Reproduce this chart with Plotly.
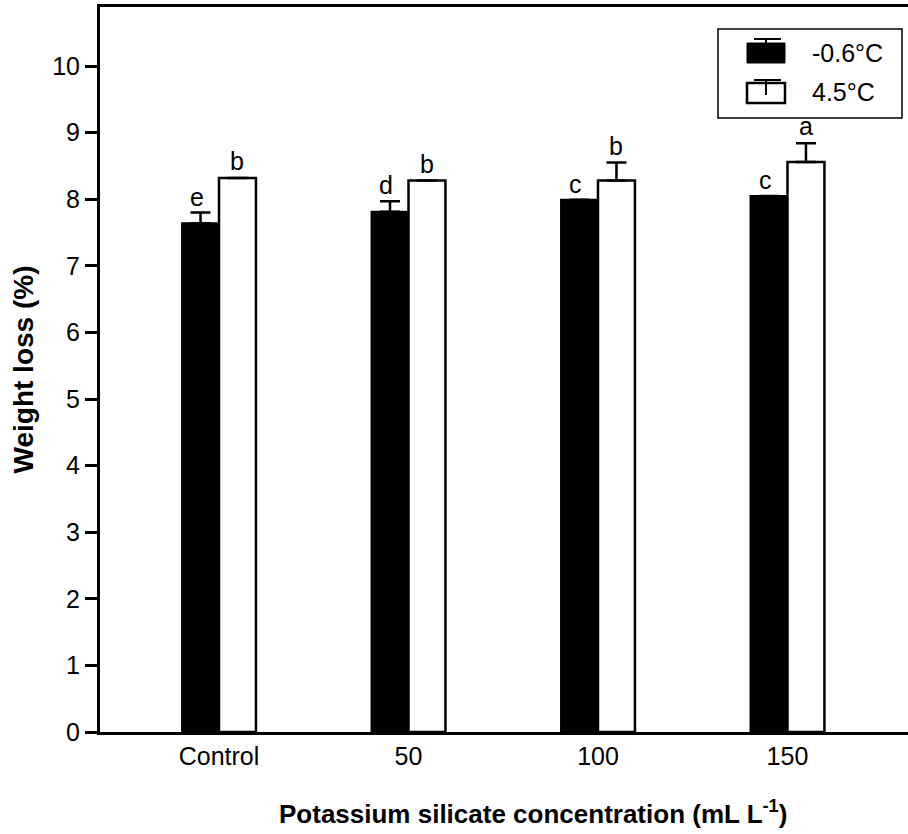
import plotly.graph_objects as go

categories = ["Control", "50", "100", "150"]
cold_vals = [7.64, 7.81, 7.99, 8.05]
cold_err = [0.16, 0.16, 0.0, 0.0]
cold_letters = ["e", "d", "c", "c"]
warm_vals = [8.32, 8.28, 8.28, 8.56]
warm_err = [0.0, 0.0, 0.27, 0.28]
warm_letters = ["b", "b", "b", "a"]
series_names = ["-0.6°C", "4.5°C"]

W, H = 908, 834
L, R, T, B = 100, 0, 7, 102
PW, PH = W - L - R, H - T - B

def px(x):
    return (x - L) / PW

def py(y):
    return (H - B - y) / PH

xpos = list(range(len(categories)))
FONT = "Liberation Sans, Arial, sans-serif"

fig = go.Figure()
fig.add_trace(go.Bar(
    x=xpos, y=cold_vals, name=series_names[0],
    marker=dict(color="black", line=dict(color="black", width=2)),
    error_y=dict(type="data", symmetric=False, array=cold_err,
                 arrayminus=[0] * 4, color="black", thickness=2.5, width=10),
    showlegend=False,
))
fig.add_trace(go.Bar(
    x=xpos, y=warm_vals, name=series_names[1],
    marker=dict(color="white", line=dict(color="black", width=2.5)),
    error_y=dict(type="data", symmetric=False, array=warm_err,
                 arrayminus=[0] * 4, color="black", thickness=2.5, width=10),
    showlegend=False,
))

bw = (1 - 0.61) / 2
ann = []
for i in xpos:
    ann.append(dict(x=i - bw / 2, y=cold_vals[i] + cold_err[i], text=cold_letters[i],
                    showarrow=False, yanchor="middle", yshift=16, xshift=-4,
                    font=dict(size=25, color="black", family=FONT)))
    ann.append(dict(x=i + bw / 2, y=warm_vals[i] + warm_err[i], text=warm_letters[i],
                    showarrow=False, yanchor="middle", yshift=17,
                    font=dict(size=25, color="black", family=FONT)))

# Legend (decorative, drawn in paper coordinates)
shapes = [
    dict(type="rect", xref="paper", yref="paper", x0=px(718), x1=px(902), y0=py(118), y1=py(29),
         line=dict(color="black", width=1.5), fillcolor="white", layer="above"),
    dict(type="rect", xref="paper", yref="paper", x0=px(747), x1=px(785), y0=py(63), y1=py(43),
         line=dict(color="black", width=1), fillcolor="black", layer="above"),
    dict(type="line", xref="paper", yref="paper", x0=px(766), x1=px(766), y0=py(43), y1=py(39),
         line=dict(color="black", width=2), layer="above"),
    dict(type="line", xref="paper", yref="paper", x0=px(754), x1=px(781), y0=py(39), y1=py(39),
         line=dict(color="black", width=2), layer="above"),
    dict(type="rect", xref="paper", yref="paper", x0=px(747), x1=px(785), y0=py(103), y1=py(83),
         line=dict(color="black", width=2.5), fillcolor="white", layer="above"),
    dict(type="line", xref="paper", yref="paper", x0=px(766), x1=px(766), y0=py(95), y1=py(80),
         line=dict(color="black", width=2), layer="above"),
    dict(type="line", xref="paper", yref="paper", x0=px(754), x1=px(781), y0=py(80), y1=py(80),
         line=dict(color="black", width=2), layer="above"),
]
ann.append(dict(xref="paper", yref="paper", x=px(810), y=py(53), text=series_names[0],
                showarrow=False, xanchor="left", yanchor="middle",
                font=dict(size=25, color="black", family=FONT)))
ann.append(dict(xref="paper", yref="paper", x=px(810), y=py(92), text=series_names[1],
                showarrow=False, xanchor="left", yanchor="middle",
                font=dict(size=25, color="black", family=FONT)))
# x-axis title (placed as annotation to match its off-centre position)
ann.append(dict(xref="paper", yref="paper", x=px(533), y=py(812),
                text="<b>Potassium silicate concentration (mL L<sup>-1</sup>)</b>",
                showarrow=False, xanchor="center", yanchor="middle",
                font=dict(size=26, color="black", family=FONT)))

fig.update_layout(
    width=W, height=H,
    margin=dict(l=L, r=R, t=T, b=B, pad=0),
    paper_bgcolor="white", plot_bgcolor="white",
    barmode="group", bargap=0.61, bargroupgap=0,
    font=dict(family=FONT, size=25, color="black"),
    shapes=shapes, annotations=ann,
    showlegend=False,
)
fig.update_xaxes(
    range=[-0.628, 3.636], tickvals=xpos, ticktext=categories,
    showline=True, linecolor="black", linewidth=3, mirror=True,
    ticks="", showgrid=False, zeroline=False,
    tickfont=dict(size=25, family=FONT, color="black"),
)
fig.update_yaxes(
    range=[0, 10.886], tickvals=list(range(0, 11)),
    showline=True, linecolor="black", linewidth=3,
    ticks="outside", ticklen=12, tickwidth=3, tickcolor="black",
    showgrid=False, zeroline=False,
    tickfont=dict(size=25, family=FONT, color="black"),
    title=dict(text="<b>Weight loss (%)</b>",
               font=dict(size=28, family=FONT, color="black"), standoff=11),
)

fig.write_html("out.html", config={"displayModeBar": False},
               post_script="document.body.style.margin='0';")
